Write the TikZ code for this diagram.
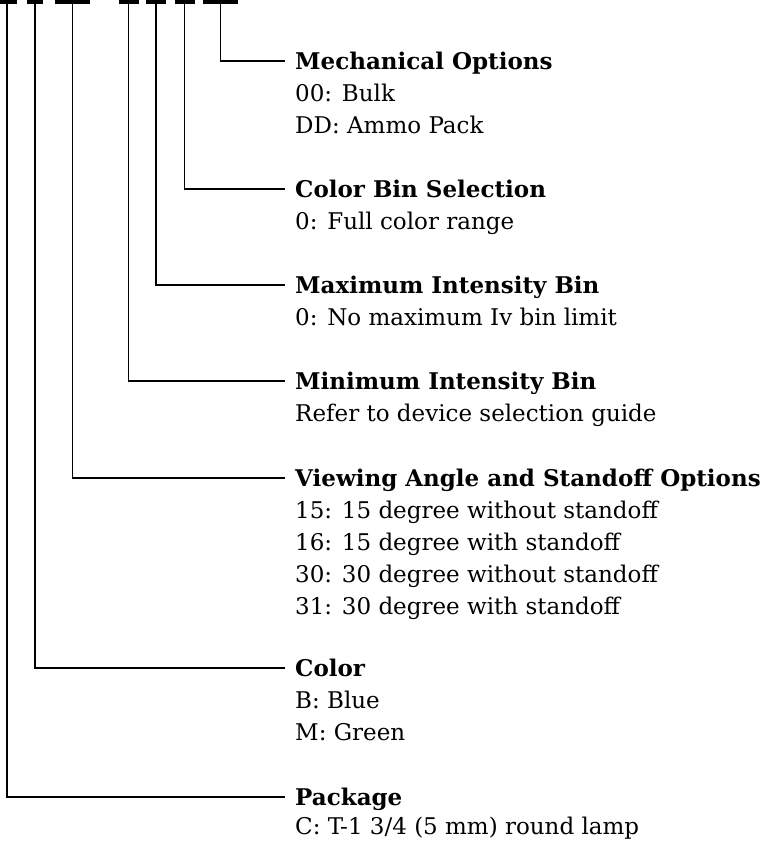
\documentclass[tikz,border=0pt]{standalone}
\usepackage{fontspec}
\setmainfont{DejaVu Serif}
\begin{document}
\begin{tikzpicture}[x=1pt,y=-1pt,
  bar/.style={fill=black,inner sep=0pt,minimum height=3.4pt},
  ttl/.style={anchor=base west,inner sep=0pt,font=\fontsize{23}{32}\selectfont\bfseries},
  txt/.style={anchor=base west,inner sep=0pt,font=\fontsize{23}{32}\selectfont},
  conn/.style={line width=1.1pt}]
\useasboundingbox (0,0) rectangle (768,841);
% bars
\node[bar,minimum width=20pt,anchor=north] (b1) at (7,0) {};
\node[bar,minimum width=16pt,anchor=north] (b2) at (35,0) {};
\node[bar,minimum width=35pt,anchor=north] (b3) at (72.5,0) {};
\node[bar,minimum width=20pt,anchor=north] (b4) at (128.5,0) {};
\node[bar,minimum width=20pt,anchor=north] (b5) at (156,0) {};
\node[bar,minimum width=20pt,anchor=north] (b6) at (184.5,0) {};
\node[bar,minimum width=35pt,anchor=north] (b7) at (220.5,0) {};
% line ends
\coordinate (e7) at (285,61);
\coordinate (e6) at (285,189);
\coordinate (e5) at (285,285);
\coordinate (e4) at (285,381);
\coordinate (e3) at (285,478);
\coordinate (e2) at (285,668);
\coordinate (e1) at (285,797);
% texts
\node[ttl] (t7) at (295,69) {Mechanical Options};
\node[txt] (t7a) at (295,101) {00: Bulk};
\node[txt] (t7b) at (295,133) {DD: Ammo Pack};
\node[ttl] (t6) at (295,197) {Color Bin Selection};
\node[txt] (t6a) at (295,229) {0: Full color range};
\node[ttl] (t5) at (295,293) {Maximum Intensity Bin};
\node[txt] (t5a) at (295,325) {0: No maximum Iv bin limit};
\node[ttl] (t4) at (295,389) {Minimum Intensity Bin};
\node[txt] (t4a) at (295,421) {Refer to device selection guide};
\node[ttl] (t3) at (295,486) {Viewing Angle and Standoff Options};
\node[txt] (t3a) at (295,518) {15: 15 degree without standoff};
\node[txt] (t3b) at (295,550) {16: 15 degree with standoff};
\node[txt] (t3c) at (295,582) {30: 30 degree without standoff};
\node[txt] (t3d) at (295,614) {31: 30 degree with standoff};
\node[ttl] (t2) at (295,676) {Color};
\node[txt] (t2a) at (295,708) {B: Blue};
\node[txt] (t2b) at (295,740) {M: Green};
\node[ttl] (t1) at (295,805) {Package};
\node[txt] (t1a) at (295,834) {C: T-1 3/4 (5 mm) round lamp};
% connectors
\draw[conn] (b7.south) |- (e7);
\draw[conn] (b6.south) |- (e6);
\draw[conn] (b5.south) |- (e5);
\draw[conn] (b4.south) |- (e4);
\draw[conn] (b3.south) |- (e3);
\draw[conn] (b2.south) |- (e2);
\draw[conn] (b1.south) |- (e1);
\end{tikzpicture}
\end{document}
